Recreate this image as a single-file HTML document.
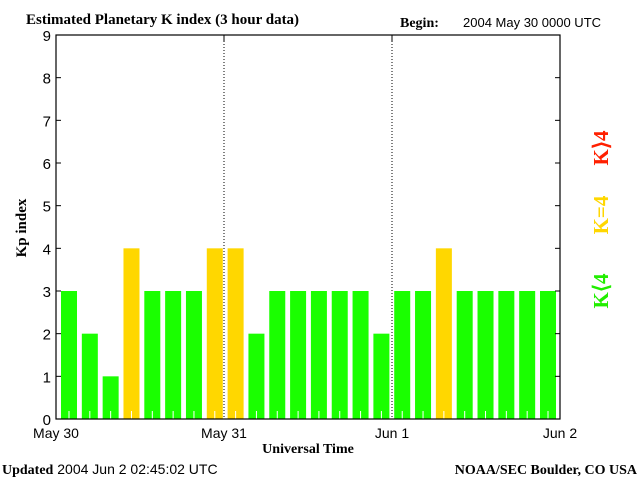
<!DOCTYPE html>
<html><head><meta charset="utf-8"><style>
body{margin:0;background:#fff;}
svg{display:block;}
text{font-family:"Liberation Sans",sans-serif;}
.s{font-family:"Liberation Serif",serif;font-weight:bold;}
</style></head><body>
<svg id="c" width="640" height="480" xmlns="http://www.w3.org/2000/svg">
<text class="s" x="26" y="24" font-size="15">Estimated Planetary K index (3 hour data)</text>
<text class="s" x="400" y="27" font-size="14">Begin:</text>
<text x="463" y="27" font-size="13">2004 May 30 0000 UTC</text>
<g id="bars"></g>
<g id="axes"></g>
<text class="s" x="26" y="228" font-size="15" transform="rotate(-90 26 228)" text-anchor="middle">Kp index</text>
<text class="s" x="308" y="453" font-size="14" text-anchor="middle">Universal Time</text>
<text x="2" y="474" font-size="14"><tspan class="s">Updated</tspan> 2004 Jun  2 02:45:02 UTC</text>
<text class="s" x="637" y="474" font-size="14" text-anchor="end">NOAA/SEC Boulder, CO USA</text>
<text class="s" x="608" y="148" font-size="21" fill="#ff2000" text-anchor="middle" transform="rotate(-90 608 148)">K⟩4</text>
<text class="s" x="608" y="215" font-size="21" fill="#ffd700" text-anchor="middle" transform="rotate(-90 608 215)">K=4</text>
<text class="s" x="608" y="291" font-size="21" fill="#22ee00" text-anchor="middle" transform="rotate(-90 608 291)">K⟨4</text>
</svg>
<script>
const kpValues=[3,2,1,4,3,3,3,4,4,2,3,3,3,3,3,2,3,3,4,3,3,3,3,3];
const dayLabels=["May 30","May 31","Jun 1","Jun 2"];
const yTicks=[0,1,2,3,4,5,6,7,8,9];
const NS="http://www.w3.org/2000/svg";
const L=56,R=560,T=35,B=419;
const BW=16;
const barX=i=>61+(540-61)*i/(kpValues.length-1);
const ys=v=>B-(B-T)*v/9;
const bars=document.getElementById('bars'),axes=document.getElementById('axes');
function mk(tag,attrs,parent){const e=document.createElementNS(NS,tag);for(const k in attrs)e.setAttribute(k,attrs[k]);parent.appendChild(e);return e;}
kpValues.forEach((v,i)=>{
 const col=v>4?'#ff2000':(v==4?'#ffd700':'#1aff00');
 const r=mk('rect',{x:barX(i),y:ys(v),width:BW,height:B-ys(v),fill:col},bars);
 
 
 const t=mk('line',{x1:barX(i)+BW/2,x2:barX(i)+BW/2,y1:B-8,y2:B,stroke:'#fff'},bars);
 
 
});
const frame=mk('rect',{x:L,y:T,width:R-L,height:B-T,fill:'none',stroke:'#000','stroke-width':1.2},axes);


yTicks.forEach(v=>{
 mk('line',{x1:L,x2:L+5,y1:ys(v),y2:ys(v),stroke:'#000'},axes);
 mk('line',{x1:R-5,x2:R,y1:ys(v),y2:ys(v),stroke:'#000'},axes);
 const t=mk('text',{x:L-5,y:ys(v)+6,'font-size':15,'text-anchor':'end'},axes);
 t.textContent=v;
 
 
});
dayLabels.forEach((d,j)=>{
 const x=L+(R-L)*j/(dayLabels.length-1);
 if(j>0&&j<dayLabels.length-1){
  const g=mk('line',{x1:x,x2:x,y1:T,y2:B,stroke:'#000','stroke-dasharray':'1,2'},axes);
  
  
  mk('line',{x1:x,x2:x,y1:T,y2:T+6,stroke:'#000'},axes);
 }
 const t=mk('text',{x:x,y:438,'font-size':14,'text-anchor':'middle'},axes);
 t.textContent=d;
 
 
});
</script>
</body></html>
